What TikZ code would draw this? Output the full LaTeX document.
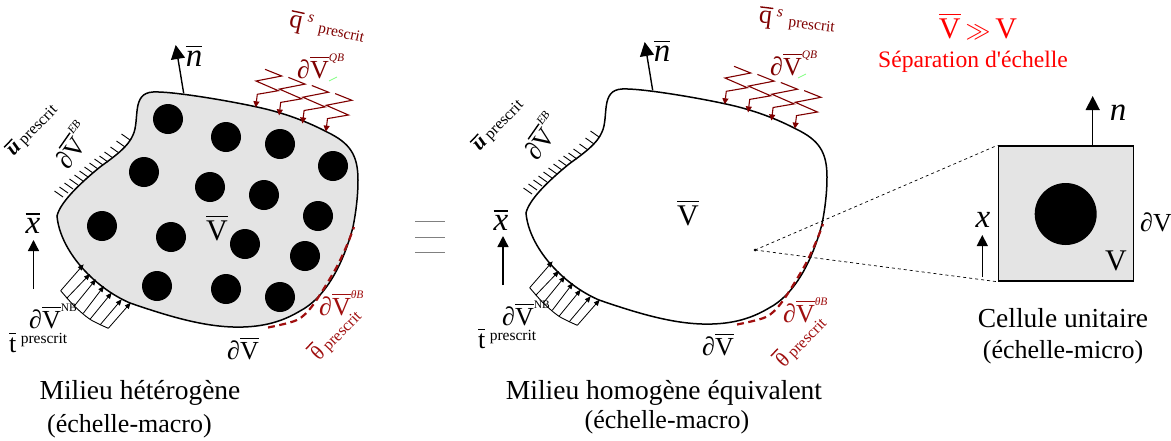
\documentclass[tikz,border=0pt]{standalone}
\usepackage{fontspec}
\setmainfont{Liberation Serif}
\newfontfamily\plainserif{Liberation Serif}
\usetikzlibrary{arrows.meta}
\definecolor{matgray}{HTML}{E4E4E4}
\definecolor{fluxred}{HTML}{7F0000}
\definecolor{thetared}{HTML}{A00F0F}
\tikzset{
    lblital/.style={inner sep=0pt, font=\fontsize{33}{35}\itshape\selectfont},
    lblvol/.style={inner sep=0pt, font=\fontsize{30}{32}\selectfont},
    lblbord/.style={inner sep=0pt, font=\fontsize{26}{28}\selectfont},
    lblsmall/.style={inner sep=0pt, font=\fontsize{16}{18}\selectfont},
    capt/.style={inner sep=0pt, font=\fontsize{27.5}{30}\selectfont},
    captb/.style={inner sep=0pt, font=\fontsize{26}{28}\selectfont},
    normalarr/.style={-{Triangle[width=14pt,length=14pt]}, line width=1.4pt},
    posarr/.style={-{Triangle[width=11pt,length=11pt]}, line width=1.4pt},
    tinyhead/.style={-{Triangle[width=5pt,length=6pt]}},
}
\newcommand{\ovr}[1]{\leavevmode\vbox{\hrule height 1.4pt\kern 3pt\hbox{#1}}}
\newcommand{\dV}[1]{∂\ovr{V}\raisebox{17pt}{\fontsize{11.5}{12}\selectfont #1}}
\newcommand{\scr}[2]{\raisebox{#1}{\fontsize{15.5}{18}\selectfont #2}}
\newcommand{\lrg}[1]{\fontsize{21}{22}\selectfont\ovr{#1}\fontsize{16}{18}\selectfont}
% boundary of the macro domain
\newcommand{\domainpath}{(57,216) .. controls (60,203) and (78,185) .. (100,167)
    .. controls (115,156) and (128,147) .. (133,135)
    .. controls (140,120) and (131,93) .. (153,92)
    .. controls (170,91) and (225,100) .. (257,107)
    .. controls (285,113) and (308,122) .. (327,132)
    .. controls (350,143) and (358,155) .. (358,180)
    .. controls (358,196) and (356,212) .. (353,227)
    .. controls (343,265) and (325,298) .. (300,311)
    .. controls (285,320) and (265,328) .. (233,327)
    .. controls (200,326) and (165,315) .. (130,303)
    .. controls (93,287) and (60,250) .. cycle}
% everything that both macro domains share
\newcommand{\domainloads}{
    % clamped part
    \foreach \x/\y in {63/197, 68/193, 73/189, 78/185, 83/181, 88/177, 93/173, 98/169,
        103/165, 108/162, 113/158, 119/153, 125/147, 130/140} {
        \draw[line width=0.9pt] (\x,\y) -- ++(-8.5,-6);
    }
    % heat flux
    \foreach \i in {0,...,3} {
        \draw[fluxred, line width=1.1pt, -{Triangle[width=6pt,length=6pt]}]
            (265+\i*23.4,69.3+\i*8.1) -- (281.7+\i*23.4,76+\i*8.1) -- (256+\i*23.4,81+\i*8.1)
            -- (278.3+\i*23.4,90.7+\i*8.1) -- (257.3+\i*23.4,94.3+\i*8.1) -- (255.7+\i*23.4,107.3+\i*8.1);
    }
    \draw[green!50!white, line width=0.8pt] (329,81) -- (337,77);
    % traction
    \foreach \a/\b/\c/\d in {60.7/290.7/83.7/264.3, 66.7/298.3/90/274, 74.3/306/96/279.3, 83.3/313.3/104/286,
        90/319.3/111.7/292.7, 100/325/121.7/299.3, 108.3/328.3/130.7/302.7} {
        \draw[line width=0.8pt, tinyhead] (\a,\b) -- (\c,\d);
    }
    \draw[line width=0.9pt] plot[smooth] coordinates {(60.7,290.7) (74.3,306) (90,319.3) (108.3,328.3)};
    % prescribed temperature
    \draw[thetared, line width=2.2pt, dash pattern=on 7pt off 4.5pt] plot[smooth] coordinates
        {(268,327.5) (297,320) (313,305) (335,270) (347,245) (354,227)};
}
\begin{document}
\begin{tikzpicture}[x=1pt, y=-1pt]
    \useasboundingbox (0,0) rectangle (1171,440);
    % LEFT : heterogeneous
    \fill[matgray] \domainpath;
    \foreach \x/\y in {168/119, 226/137, 280/144, 333/166, 144/172, 210/187, 264/195, 318/216,
        102/226, 171/237, 245/244, 305/256, 157/286, 226/289, 280/297} {
        \fill[black] (\x,\y) circle (15);
    }
    \draw[line width=1.5pt] \domainpath;
    \domainloads
    \coordinate (nbaseL) at (183.7,93.3);
    \coordinate (ntipL) at (175.7,45);
    \draw[normalarr] (nbaseL) -- (ntipL);
    \coordinate (xbaseL) at (33.5,289);
    \coordinate (xtipL) at (33.5,240);
    \draw[posarr] (xbaseL) -- (xtipL);
    \node[lblital, anchor=base] (nL) at (194,66) {\ovr{n}};
    \node[lblital, anchor=base] (xL) at (33,233) {\ovr{x}};
    \node[lblvol, anchor=base] (VL) at (217,240) {\ovr{V}};
    \node[lblbord, anchor=base west] (bdL) at (227,359) {∂\ovr{V}};
    \node[lblbord, fluxred, rotate=-12] (qL) at (327,29) {\ovr{q}\,\scr{9pt}{\itshape s}\ \scr{0pt}{prescrit}};
    \node[lblbord, fluxred, anchor=base west] (dqL) at (297,78) {\dV{\itshape QB}};
    \node[lblsmall, rotate=46] (uL) at (32,130) {\lrg{\bfseries\itshape u}\ prescrit};
    \node[lblbord, rotate=55] (deL) at (72,145) {\dV{\itshape EB}};
    \node[lblbord, anchor=base west] (dnL) at (29,328) {\dV{NB}};
    \node[lblbord, anchor=base west] (tL) at (9,352) {\ovr{t}\,\scr{9pt}{prescrit}};
    \node[lblbord, thetared, anchor=base west] (dtL) at (319,315) {\dV{\itshape θB}};
    \node[lblsmall, thetared, rotate=46] (thL) at (335,334) {\lrg{θ}\ prescrit};
    \node[capt] (captL) at (140,393) {Milieu hétérogène};
    \node[captb] (captLb) at (129.5,426) {(échelle-macro)};
    % equivalence
    \foreach \y in {221.7,237.3,252.7} {
        \draw[gray, line width=1.4pt] (415,\y) -- (445,\y);
    }
    % RIGHT : homogeneous
    \begin{scope}[shift={(469,-3)}]
        \draw[line width=1.5pt] \domainpath;
        \domainloads
        \coordinate (nbaseR) at (183.7,93.3);
        \coordinate (ntipR) at (175.7,45);
        \draw[normalarr] (nbaseR) -- (ntipR);
        \coordinate (xbaseR) at (34,288);
        \coordinate (xtipR) at (34,239);
        \draw[posarr] (xbaseR) -- (xtipR);
    \end{scope}
    \node[lblital, anchor=base] (nR) at (662,61) {\ovr{n}};
    \node[lblital, anchor=base] (xR) at (501,230) {\ovr{x}};
    \node[lblvol, anchor=base] (VR) at (688,225) {\ovr{V}};
    \node[lblbord, anchor=base west] (bdR) at (702,355) {∂\ovr{V}};
    \node[lblbord, fluxred, rotate=-7] (qR) at (797,22) {\ovr{q}\,\scr{9pt}{\itshape s}\ \scr{0pt}{prescrit}};
    \node[lblbord, fluxred, anchor=base west] (dqR) at (770,75) {\dV{\itshape QB}};
    \node[lblsmall, rotate=46] (uR) at (498,125) {\lrg{\bfseries\itshape u}\ prescrit};
    \node[lblbord, rotate=55] (deR) at (541,136) {\dV{\itshape EB}};
    \node[lblbord, anchor=base west] (dnR) at (502,325) {\dV{NB}};
    \node[lblbord, anchor=base west] (tR) at (478,348) {\ovr{t}\,\scr{8pt}{prescrit}};
    \node[lblbord, thetared, anchor=base west] (dtR) at (783,322) {\dV{\itshape θB}};
    \node[lblsmall, thetared, rotate=46] (thR) at (800,341) {\lrg{θ}\ prescrit};
    \node[capt] (captR) at (664,393) {Milieu homogène équivalent};
    \node[captb] (captRb) at (667,422) {(échelle-macro)};
    % scale separation
    \node[lblvol, red, anchor=base] (sepa) at (978,38) {\ovr{V}\,$\gg$\,V};
    \node[inner sep=0pt, red, font=\plainserif\fontsize{23.6}{26}\selectfont] (sepb) at (973,62) {Séparation d'échelle};
    % unit cell
    \node[draw, line width=1.5pt, fill=matgray, minimum width=135pt, minimum height=135pt, inner sep=0pt] (cell) at (1065.8,213.5) {};
    \node[circle, fill=black, minimum size=62pt, inner sep=0pt] (incl) at (1065.7,214) {};
    \coordinate (point) at (755,250);
    \fill (point) circle (1.5);
    \draw[dashed, line width=0.7pt] (point) -- (cell.north west);
    \draw[dashed, line width=0.7pt] (point) -- (cell.south west);
    \coordinate (nbaseC) at (1092.7,146);
    \coordinate (ntipC) at (1092.7,96);
    \draw[normalarr] (nbaseC) -- (ntipC);
    \coordinate (xbaseC) at (982.3,277);
    \coordinate (xtipC) at (982.3,235);
    \draw[posarr] (xbaseC) -- (xtipC);
    \node[lblital, anchor=base] (nC) at (1118,120) {n};
    \node[lblital, anchor=base] (xC) at (983,227) {x};
    \node[lblbord] (bdC) at (1156,222) {∂V};
    \node[lblvol] (VC) at (1116,261) {V};
    \node[capt] (captC) at (1063,318) {Cellule unitaire};
    \node[captb] (captCb) at (1063,352) {(échelle-micro)};
\end{tikzpicture}
\end{document}
